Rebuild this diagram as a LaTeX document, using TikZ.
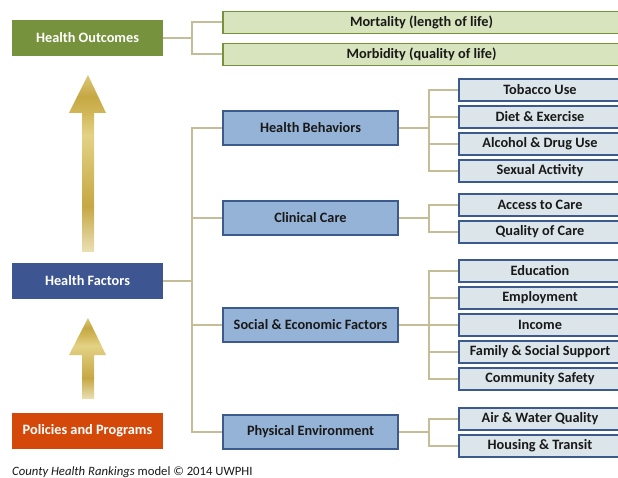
\documentclass[tikz,border=0pt]{standalone}
\usepackage{fontspec}
\setmainfont{Carlito}
\usetikzlibrary{positioning}
\definecolor{outgreen}{HTML}{76923C}
\definecolor{outlight}{HTML}{D7E4BD}
\definecolor{facblue}{HTML}{3D5590}
\definecolor{midblue}{HTML}{95B3D7}
\definecolor{edgeblue}{HTML}{3C5A8E}
\definecolor{leafblue}{HTML}{DBE5EA}
\definecolor{polred}{HTML}{D4490A}
\definecolor{tan}{HTML}{C4BD97}
\definecolor{gold1}{HTML}{EAE0B5}
\definecolor{gold2}{HTML}{C6A744}
\definecolor{gold3}{HTML}{E3D285}
\definecolor{gold4}{HTML}{D2B85A}
\definecolor{gold5}{HTML}{DDC778}
\pgfdeclareverticalshading{goldarrow}{100bp}{%
  color(0bp)=(gold1); color(25bp)=(gold1); color(38bp)=(gold2);
  color(58bp)=(gold3); color(64bp)=(gold4); color(69bp)=(gold2);
  color(75bp)=(gold5); color(100bp)=(gold5)}
\tikzstyle{txt} = [font=\fontsize{14.3}{16}\selectfont\bfseries,text=black!90,inner sep=0pt]
\tikzstyle{topbox} = [txt,fill=#1,text=white,minimum width=151pt,minimum height=36pt]
\tikzstyle{outcome} = [txt,draw=outgreen,line width=1.8pt,fill=outlight,minimum width=397pt,minimum height=22pt]
\tikzstyle{factor} = [txt,draw=edgeblue,line width=1.8pt,fill=midblue,minimum width=175pt,minimum height=34pt]
\tikzstyle{leaf} = [txt,draw=edgeblue,line width=1.8pt,fill=leafblue,minimum width=162pt,minimum height=22pt]
\tikzstyle{link} = [draw=tan,line width=2pt]

\begin{document}
\begin{tikzpicture}[x=1pt,y=-1pt]
\useasboundingbox (0,0) rectangle (618,478);
%%% Left column
\node[topbox=outgreen] (outcomes) at (87.5,38) {Health Outcomes};
\node[topbox=facblue] (factors) at (87.5,281) {Health Factors};
\node[topbox=polred] (policies) at (87.5,431) {Policies and Programs};
% Gold arrows
\shade[shading=goldarrow] (88,75) -- (106,113) -- (94,113) -- (94,252)
    -- (82,252) -- (82,113) -- (69,113) -- cycle;
\shade[shading=goldarrow] (88,318) -- (106,355) -- (94,355) -- (94,399)
    -- (82,399) -- (82,355) -- (69,355) -- cycle;

%%% Health outcomes
\node[outcome] (mortality) at (421.5,22.5) {Mortality (length of life)};
\node[outcome] (morbidity) at (421.5,54.5) {Morbidity (quality of life)};
\foreach \n in {mortality,morbidity}
    \draw[link] (outcomes.east) -- +(29,0) |- (\n.west);

%%% Health factors
\node[factor] (behaviors) at (310.5,128) {Health Behaviors};
\node[factor] (clinical) at (310.5,218) {Clinical Care};
\node[factor] (social) at (310.5,325) {Social \& Economic Factors};
\node[factor] (physical) at (310.5,432) {Physical Environment};
\foreach \n in {behaviors,clinical,social,physical}
    \draw[link] (factors.east) -- +(29,0) |- (\n.west);

%%% Leaves of each factor
\foreach \n/\y/\t in {tobacco/90/Tobacco Use,diet/117/Diet \& Exercise,
        alcohol/144/Alcohol \& Drug Use,sexual/171/Sexual Activity} {
    \node[leaf] (\n) at (540,\y) {\t};
    \draw[link] (behaviors.east) -- +(30,0) |- (\n.west);
}
\foreach \n/\y/\t in {access/205/Access to Care,quality/232/Quality of Care} {
    \node[leaf] (\n) at (540,\y) {\t};
    \draw[link] (clinical.east) -- +(30,0) |- (\n.west);
}
\foreach \n/\y/\t in {education/271/Education,employment/298/Employment,
        income/325/Income,family/352/Family \& Social Support,
        safety/379/Community Safety} {
    \node[leaf] (\n) at (540,\y) {\t};
    \draw[link] (social.east) -- +(30,0) |- (\n.west);
}
\foreach \n/\y/\t in {air/419/Air \& Water Quality,housing/446/Housing \& Transit} {
    \node[leaf] (\n) at (540,\y) {\t};
    \draw[link] (physical.east) -- +(30,0) |- (\n.west);
}

% Credit line
\node[anchor=west,inner sep=0pt,font=\fontsize{12.7}{14}\selectfont,text=black!90]
    (credit) at (12,472) {\textit{County Health Rankings} model © 2014 UWPHI};
\end{tikzpicture}
\end{document}
